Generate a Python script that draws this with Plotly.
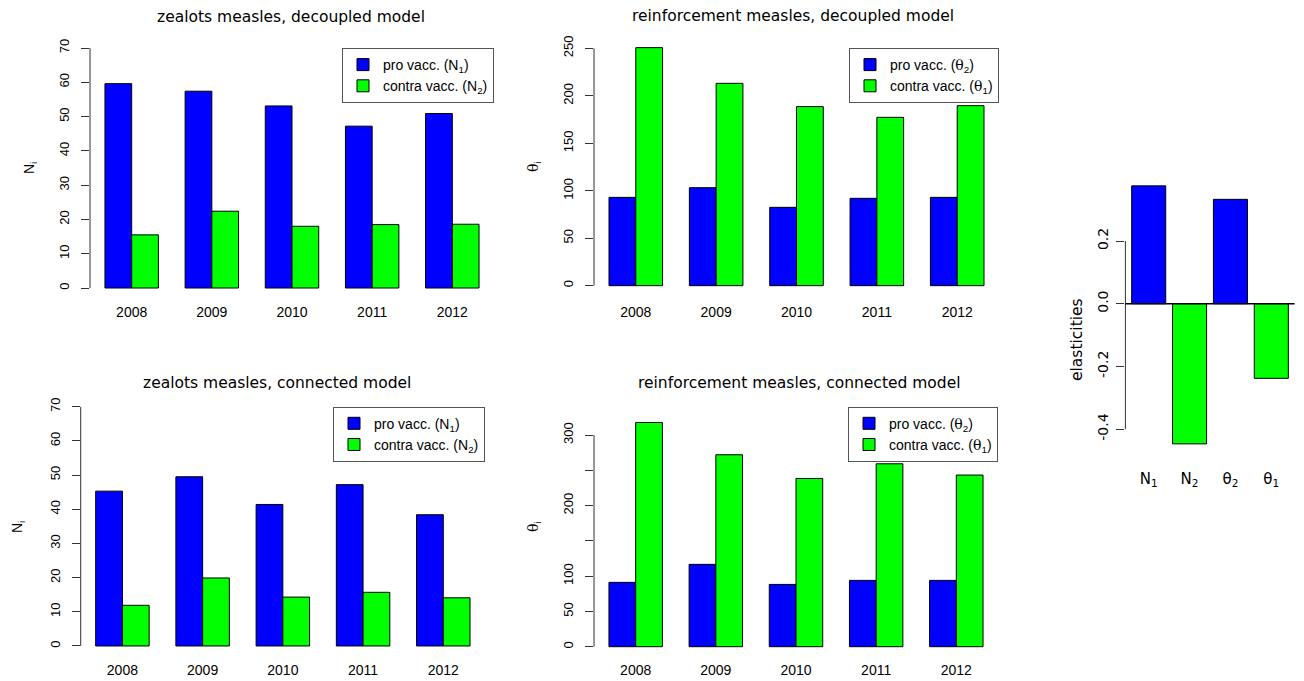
import plotly.graph_objects as go

W, H = 1304, 681

# ---------------- data ----------------
years = ["2008", "2009", "2010", "2011", "2012"]
zealots_dec_pro = [59.6, 57.4, 53.1, 47.2, 50.9]
zealots_dec_contra = [15.5, 22.4, 18.0, 18.5, 18.6]
reinf_dec_pro = [93.0, 103.2, 82.5, 92.0, 93.0]
reinf_dec_contra = [250.7, 213.1, 188.6, 177.3, 189.6]
zealots_con_pro = [45.3, 49.5, 41.4, 47.2, 38.4]
zealots_con_contra = [11.9, 19.9, 14.3, 15.7, 14.1]
reinf_con_pro = [91.2, 116.7, 88.3, 94.0, 94.0]
reinf_con_contra = [317.9, 272.1, 238.5, 259.3, 243.3]
elast_labels = ["N<sub>1</sub>", "N<sub>2</sub>", "θ<sub>2</sub>", "θ<sub>1</sub>"]
elast_values = [0.376, -0.447, 0.333, -0.238]

z_ticks = [0, 10, 20, 30, 40, 50, 60, 70]
rd_ticks = [0, 50, 100, 150, 200, 250]
rc_ticks = [0, 50, 100, 150, 200, 250, 300]
rc_ticktext = ["0", "50", "100", "", "200", "", "300"]
e_ticks = [-0.4, -0.2, 0.0, 0.2]
e_ticktext = ["-0.4", "-0.2", "0.0", "0.2"]

BLUE = "#0000FF"
GREEN = "#00FF00"
SANS = "Liberation Sans"
DJ = "DejaVu Sans"
TH = '<span style="font-family:\'DejaVu Serif\'">θ</span>'


def px(p):
    return p / W


def py(p):
    return 1 - p / H


panels = [
    dict(title="zealots measles, decoupled model", pro=zealots_dec_pro, contra=zealots_dec_contra,
         names=("pro vacc. (N<sub>1</sub>)", "contra vacc. (N<sub>2</sub>)"), ylab="N<sub>i</sub>",
         xd=(90, 494), yd=(48, 302), yr=(-4.08, 70), ticks=z_ticks, ticktext=None,
         tpos=(291, 17), lpos=(30, 168), leg=(494, 48)),
    dict(title="reinforcement measles, decoupled model", pro=reinf_dec_pro, contra=reinf_dec_contra,
         names=(f"pro vacc. ({TH}<sub>2</sub>)", f"contra vacc. ({TH}<sub>1</sub>)"), ylab=f"{TH}<sub>i</sub>",
         xd=(594, 999), yd=(46.4, 302), yr=(-17.2, 252), ticks=rd_ticks, ticktext=None,
         tpos=(793, 16), lpos=(534, 167), leg=(999, 48)),
    dict(title="zealots measles, connected model", pro=zealots_con_pro, contra=zealots_con_contra,
         names=("pro vacc. (N<sub>1</sub>)", "contra vacc. (N<sub>2</sub>)"), ylab="N<sub>i</sub>",
         xd=(80.7, 485), yd=(406.7, 660), yr=(-4.1, 70), ticks=z_ticks, ticktext=None,
         tpos=(277, 383), lpos=(18, 527), leg=(485, 406.7)),
    dict(title="reinforcement measles, connected model", pro=reinf_con_pro, contra=reinf_con_contra,
         names=(f"pro vacc. ({TH}<sub>2</sub>)", f"contra vacc. ({TH}<sub>1</sub>)"), ylab=f"{TH}<sub>i</sub>",
         xd=(594, 998), yd=(413.9, 660), yr=(-18.85, 330), ticks=rc_ticks, ticktext=rc_ticktext,
         tpos=(799, 383), lpos=(534, 527), leg=(998, 406.7)),
]

fig = go.Figure()
layout = dict(
    template="none",
    width=W, height=H, margin=dict(l=0, r=0, t=0, b=0, pad=0), autosize=False,
    paper_bgcolor="white", plot_bgcolor="white",
    barmode="group", bargap=1 / 3, bargroupgap=0,
    font=dict(family=SANS, size=14, color="black"),
)
annotations = []
shapes = []

for i, p in enumerate(panels):
    n = i + 1
    xa = "x" if n == 1 else f"x{n}"
    ya = "y" if n == 1 else f"y{n}"
    lg = "legend" if n == 1 else f"legend{n}"
    for vals, name, col in ((p["pro"], p["names"][0], BLUE), (p["contra"], p["names"][1], GREEN)):
        fig.add_trace(go.Bar(x=years, y=vals, name=name, marker=dict(color=col, line=dict(color="black", width=1)),
                             xaxis=xa, yaxis=ya, legend=lg, showlegend=True))
    layout[f"xaxis{'' if n == 1 else n}"] = dict(
        domain=[px(p["xd"][0]), px(p["xd"][1])], anchor=ya, type="category", automargin=False,
        range=[-0.52, 4.52], showline=False, showgrid=False, zeroline=False, ticks="",
        tickfont=dict(family=SANS, size=14, color="black"), fixedrange=True)
    ya_d = dict(
        domain=[py(p["yd"][1]), py(p["yd"][0])], anchor=xa, range=list(p["yr"]), automargin=False,
        showline=False, showgrid=False, zeroline=False, ticks="outside", ticklen=8,
        tickcolor="#333", tickwidth=1, tickvals=p["ticks"], tickangle=-90, ticklabelstandoff=7,
        tickfont=dict(family=SANS, size=13, color="black"), fixedrange=True)
    if p["ticktext"] is not None:
        ya_d["ticktext"] = p["ticktext"]
    layout[f"yaxis{'' if n == 1 else n}"] = ya_d
    layout[lg] = dict(x=px(p["leg"][0]), y=py(p["leg"][1]), xanchor="right", yanchor="top",
                      xref="paper", yref="paper",
                      bgcolor="white", bordercolor="#555", borderwidth=1,
                      font=dict(family=SANS, size=14, color="black"), itemclick=False, itemdoubleclick=False)
    annotations.append(dict(text=p["title"], x=px(p["tpos"][0]), y=py(p["tpos"][1]), xref="paper", yref="paper",
                            showarrow=False, xanchor="center", yanchor="middle",
                            font=dict(family=DJ, size=15.5, color="black")))
    annotations.append(dict(text=p["ylab"], x=px(p["lpos"][0]), y=py(p["lpos"][1]), xref="paper", yref="paper",
                            showarrow=False, xanchor="center", yanchor="middle", textangle=-90,
                            font=dict(family=SANS, size=14, color="black")))
    shapes.append(dict(type="line", xref=f"{xa} domain", yref=ya, x0=0, x1=0,
                       y0=p["ticks"][0], y1=p["ticks"][-1], line=dict(color="#333", width=1)))

# elasticities panel
fig.add_trace(go.Bar(x=elast_labels, y=elast_values, marker=dict(color=[BLUE, GREEN, BLUE, GREEN],
                     line=dict(color="black", width=1)), width=1 / 1.2, xaxis="x5", yaxis="y5",
                     showlegend=False))
layout["xaxis5"] = dict(domain=[px(1125.4), px(1294.6)], anchor="y5", type="category", range=[-0.57, 3.57],
                        automargin=False, showline=False, showgrid=False, zeroline=False, ticks="",
                        tickfont=dict(family=DJ, size=15, color="black"), fixedrange=True)
layout["yaxis5"] = dict(domain=[py(468), py(175.2)], anchor="x5", range=[-0.524, 0.41], automargin=False,
                        showline=False, showgrid=False, zeroline=False, ticks="outside", ticklen=8,
                        tickcolor="#333", tickwidth=1, tickvals=e_ticks, ticktext=e_ticktext, tickangle=-90,
                        ticklabelstandoff=3, tickfont=dict(family=DJ, size=14, color="black"), fixedrange=True)
shapes.append(dict(type="line", xref="x5 domain", yref="y5", x0=0, x1=0, y0=e_ticks[0], y1=e_ticks[-1],
                   line=dict(color="#333", width=1)))
shapes.append(dict(type="line", xref="x5 domain", yref="y5", x0=0, x1=1, y0=0, y1=0,
                   line=dict(color="black", width=1.5)))
annotations.append(dict(text="elasticities", x=px(1077), y=py(340), xref="paper", yref="paper",
                        showarrow=False, xanchor="center", yanchor="middle", textangle=-90,
                        font=dict(family=DJ, size=15.5, color="black")))

layout["annotations"] = annotations
layout["shapes"] = shapes
fig.update_layout(**layout)
fig.write_html("out.html")
